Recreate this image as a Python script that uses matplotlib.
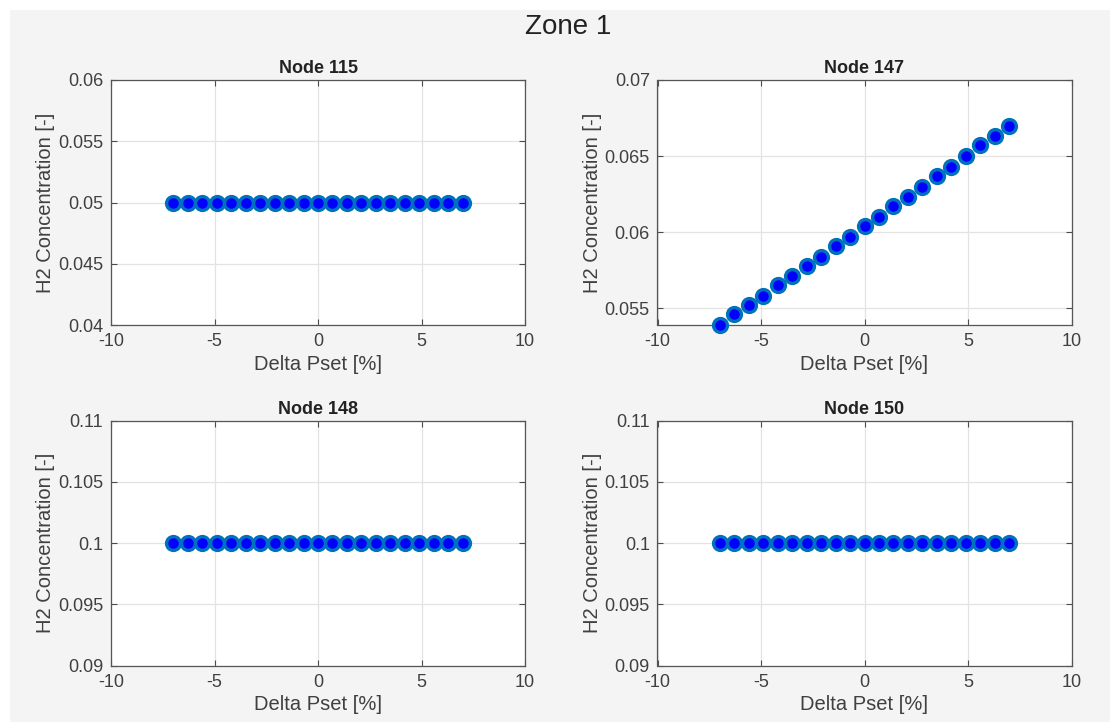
import matplotlib
matplotlib.use("Agg")
import matplotlib.pyplot as plt
from matplotlib.patches import Rectangle
from matplotlib.ticker import FuncFormatter, MultipleLocator

plt.rcParams["font.family"] = ["Liberation Sans", "DejaVu Sans"]

# Delta Pset steps [%]
delta_pset = [-7.0, -6.3, -5.6, -4.9, -4.2, -3.5, -2.8, -2.1, -1.4, -0.7, 0.0,
              0.7, 1.4, 2.1, 2.8, 3.5, 4.2, 4.9, 5.6, 6.3, 7.0]

node_115 = [0.05] * 21
node_147 = [0.0539, 0.0546, 0.0552, 0.0558, 0.0565, 0.0571, 0.0578, 0.0584,
            0.0591, 0.0597, 0.0604, 0.0610, 0.0617, 0.0623, 0.0630, 0.0637,
            0.0643, 0.0650, 0.0657, 0.0663, 0.0670]
node_148 = [0.1] * 21
node_150 = [0.1] * 21

panels = [
    ("Node 115", node_115, (0.04, 0.06)),
    ("Node 147", node_147, (0.0539, 0.07)),
    ("Node 148", node_148, (0.09, 0.11)),
    ("Node 150", node_150, (0.09, 0.11)),
]

W, H = 1110, 722
fig = plt.figure(figsize=(W / 100, H / 100), dpi=100, facecolor="white")
fig.patches.append(Rectangle((10 / W, 0), 1 - 10 / W, 1 - 10 / H,
                             transform=fig.transFigure, facecolor="#f4f4f4",
                             edgecolor="none", zorder=-10))

lefts = [111 / W, 657.5 / W]
bottoms = [1 - 325 / H, 1 - 665.5 / H]
aw, ah = 414 / W, 245 / H

text_col = "#404040"
fmt = FuncFormatter(lambda v, p: f"{v:g}")

for i, (title, yvals, ylim) in enumerate(panels):
    ax = fig.add_axes([lefts[i % 2], bottoms[i // 2], aw, ah])
    ax.set_facecolor("white")
    ax.plot(delta_pset, yvals, linestyle="none", marker="o", markersize=10,
            markerfacecolor="#0000ff", markeredgecolor="#0072bd",
            markeredgewidth=2.4, zorder=3, clip_on=False)
    ax.set_xlim(-10, 10)
    ax.set_ylim(*ylim)
    ax.xaxis.set_major_locator(MultipleLocator(5))
    ax.yaxis.set_major_locator(MultipleLocator(0.005))
    ax.yaxis.set_major_formatter(fmt)
    ax.xaxis.set_major_formatter(fmt)
    ax.grid(True, color="#e3e3e3", linewidth=0.9)
    ax.set_axisbelow(True)
    ax.tick_params(direction="in", length=4, width=0.8, top=True, right=True,
                   labelsize=13, colors="#4d4d4d", labelcolor=text_col)
    ax.tick_params(axis="x", pad=6)
    ax.tick_params(axis="y", pad=5.5)
    for s in ax.spines.values():
        s.set_color("#555555")
        s.set_linewidth(0.9)
    ax.set_title(title, fontsize=13, fontweight="bold", color="#222222", pad=5)
    ax.set_xlabel("Delta Pset [%]", fontsize=14.5, color=text_col, labelpad=3)
    ax.set_ylabel("H2 Concentration [-]", fontsize=14.5, color=text_col, labelpad=2)

fig.text(568 / W, 1 - 27 / H, "Zone 1", ha="center", va="center",
         fontsize=20, color="#222222")

fig.savefig("out.png", dpi=100, facecolor=fig.get_facecolor())
